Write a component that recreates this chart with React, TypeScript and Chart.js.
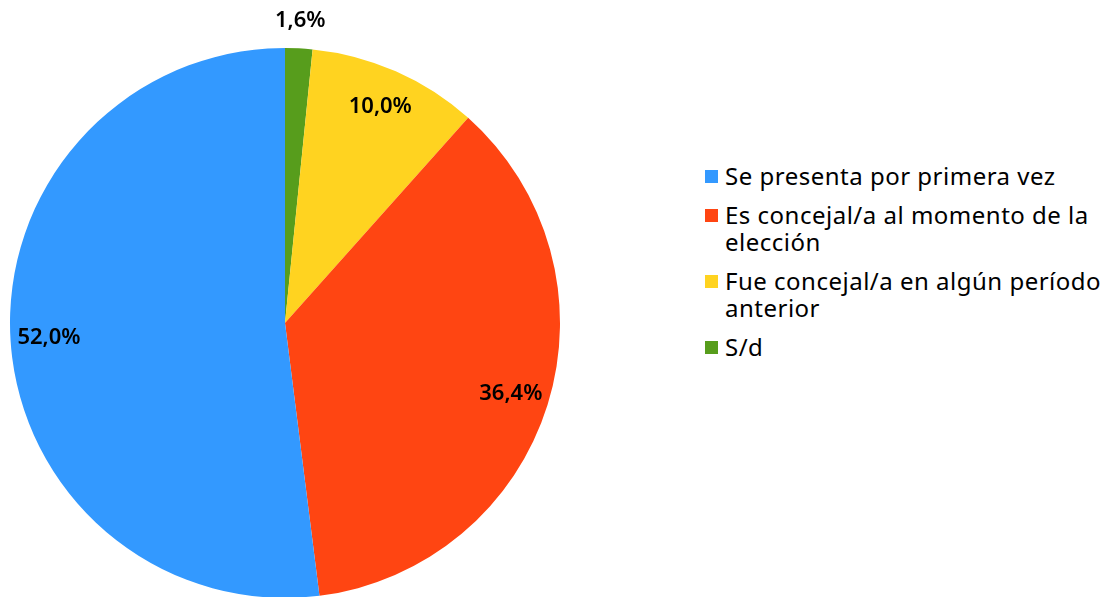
import React, { useEffect, useRef } from "react";
import { Chart, registerables } from "chart.js";

Chart.register(...registerables);

const categories = [
  "Se presenta por primera vez",
  "Es concejal/a al momento de la\nelección",
  "Fue concejal/a en algún período\nanterior",
  "S/d",
];
const values = [52.0, 36.4, 10.0, 1.6];
const colors = ["#3399ff", "#ff4512", "#ffd320", "#579d1c"];
const valueLabels = ["52,0%", "36,4%", "10,0%", "1,6%"];

// The reference is drawn counter-clockwise from the top, so feed the slices reversed.
const chartLabels = [...categories].reverse();
const chartValues = [...values].reverse();
const chartColors = [...colors].reverse();
const chartValueLabels = [...valueLabels].reverse();

const FONT = "'Noto Sans', sans-serif";

const labelPlugin = {
  id: "sliceLabels",
  afterDatasetsDraw(chart: any) {
    const ctx = chart.ctx;
    const meta = chart.getDatasetMeta(0);
    const total = chartValues.reduce((a, b) => a + b, 0);
    ctx.save();
    ctx.font = `600 22px ${FONT}`;
    ctx.fillStyle = "#000";
    ctx.textAlign = "center";
    ctx.textBaseline = "middle";
    meta.data.forEach((arc: any, i: number) => {
      const mid = (arc.startAngle + arc.endAngle) / 2;
      const pct = chartValues[i] / total;
      const f = pct < 0.05 ? 1.1 : 0.86;
      const d = arc.outerRadius * f;
      const x = arc.x + Math.cos(mid) * d;
      const y = arc.y + Math.sin(mid) * d;
      ctx.fillText(chartValueLabels[i], x, y);
    });
    ctx.restore();
  },
};

export default function App() {
  const canvasRef = useRef<HTMLCanvasElement>(null);

  useEffect(() => {
    if (!canvasRef.current) return;
    const chart = new Chart(canvasRef.current, {
      type: "pie",
      data: {
        labels: chartLabels,
        datasets: [
          {
            data: chartValues,
            backgroundColor: chartColors,
            borderWidth: 0,
            hoverOffset: 0,
            offset: 0,
          },
        ],
      },
      options: {
        animation: false,
        responsive: true,
        maintainAspectRatio: false,
        layout: { padding: 10 },
        plugins: {
          legend: { display: false },
          tooltip: { enabled: false },
        },
      },
      plugins: [labelPlugin],
    });
    return () => chart.destroy();
  }, []);

  return (
    <div
      style={{
        position: "fixed",
        left: 0,
        top: 0,
        width: 1105,
        height: 597,
        overflow: "hidden",
        background: "#fff",
      }}
    >
      <div style={{ position: "absolute", left: 0, top: 0, width: 570, height: 646 }}>
        <canvas ref={canvasRef} />
      </div>
      <div
        style={{
          position: "absolute",
          left: 705,
          top: 162,
          display: "flex",
          flexDirection: "column",
          gap: 12,
          fontFamily: FONT,
          fontSize: 24,
          letterSpacing: 0.5,
          lineHeight: "27px",
          color: "#000",
        }}
      >
        {categories.map((c, i) => (
          <div key={i} style={{ display: "flex", alignItems: "flex-start" }}>
            <span
              style={{
                display: "inline-block",
                width: 13,
                height: 13,
                background: colors[i],
                marginTop: 8,
                marginRight: 7,
                flex: "none",
              }}
            />
            <span style={{ whiteSpace: "pre-line" }}>{c}</span>
          </div>
        ))}
      </div>
    </div>
  );
}
